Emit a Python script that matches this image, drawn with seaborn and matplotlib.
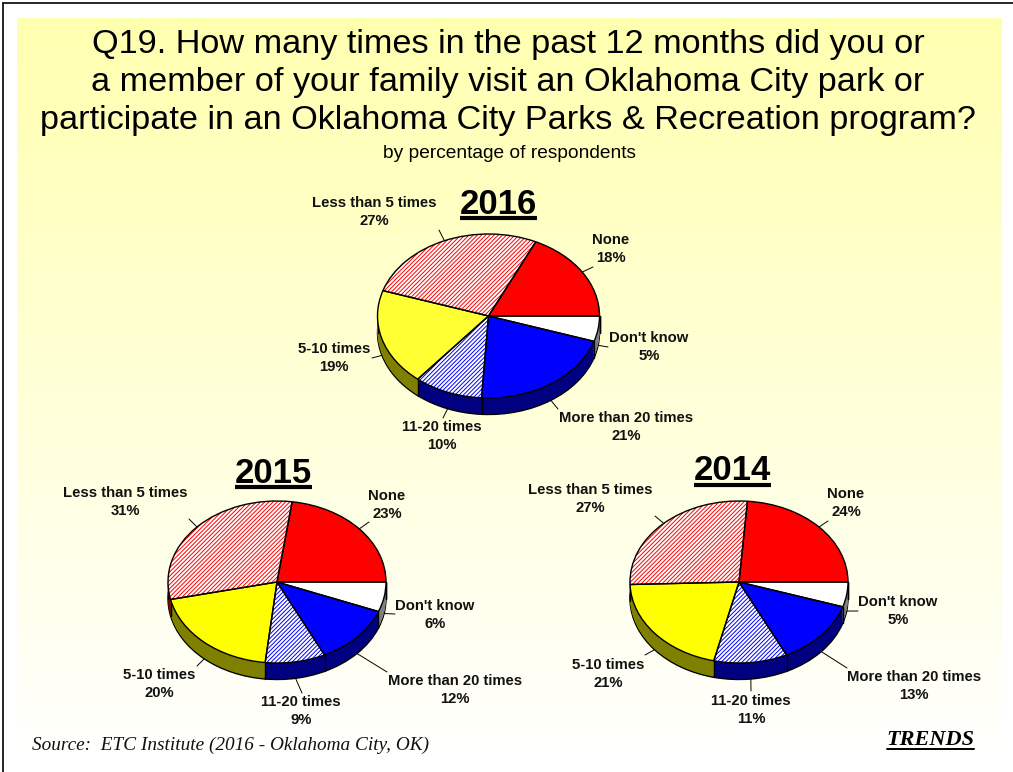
import numpy as np
import matplotlib
matplotlib.use('Agg')
import matplotlib.pyplot as plt
from matplotlib.lines import Line2D
import seaborn as sns

W, H = 1013, 772

categories = ['None', 'Less than 5 times', '5-10 times', '11-20 times', 'More than 20 times', "Don't know"]
values_2016 = [18, 27, 19, 10, 21, 5]
values_2015 = [23, 31, 20, 9, 12, 6]
values_2014 = [24, 27, 21, 11, 13, 5]

top_colors = ['#FF0000', '#FFFFFF', '#FFFF00', '#FFFFFF', '#0000FF', '#FFFFFF']
side_colors = ['#800000', '#800000', '#808000', '#000080', '#000080', '#808080']
hatch_colors = {1: '#FF0000', 3: '#0000FF'}

title_lines = ['Q19. How many times in the past 12 months did you or',
               'a member of your family visit an Oklahoma City park or',
               'participate in an Oklahoma City Parks & Recreation program?']

# layout, in pixels of the picture: year, values, centre, radii, depth, title, label spots, leader ends
pies = [
    dict(year='2016', vals=values_2016, cx=488.5, cy=316, rx=111, ry=82, depth=16.5, head=(498, 202, 218),
         labels=[(611, 249), (374, 212), (334, 358), (442, 436), (626, 427), (649, 347)],
         ends=[(593, 267), (439, 230), (372, 358), (443, 418), (558, 409), (608, 347)]),
    dict(year='2015', vals=values_2015, cx=277, cy=582, rx=109, ry=81, depth=16.5, head=(273, 471, 487),
         labels=[(387, 505), (125, 502), (159, 684), (301, 711), (455, 690), (435, 615)],
         ends=[(369, 522), (189, 519), (197, 666), (302, 693), (387, 672), (395, 614)]),
    dict(year='2014', vals=values_2014, cx=739, cy=582, rx=109, ry=81, depth=16.5, head=(732, 468, 485),
         labels=[(846, 503), (590, 499), (608, 674), (751, 710), (914, 686), (898, 611)],
         ends=[(828, 521), (655, 516), (645, 655), (751, 691), (847, 668), (858, 611)]),
]

sns.set_theme(style='white')
plt.rcParams['font.family'] = ['Liberation Sans', 'DejaVu Sans']
plt.rcParams['hatch.linewidth'] = 0.7


def fx(x):
    return x / W


def fy(y):
    return 1 - y / H


fig = plt.figure(figsize=(W / 100, H / 100), dpi=100, facecolor='white')

# pale yellow panel fading to white
bg = fig.add_axes([fx(17), fy(762), (1001 - 17) / W, (762 - 18) / H], zorder=0)
grad = np.linspace(0, 1, 256).reshape(-1, 1)
bg.imshow(grad, aspect='auto', cmap=matplotlib.colors.LinearSegmentedColormap.from_list('bg', ['#FFFFB0', '#FFFFFF']))
bg.axis('off')

fig.add_artist(Line2D([fx(2.5), fx(2.5)], [fy(3), 0], color='black', lw=1.2))
fig.add_artist(Line2D([fx(2.5), 1], [fy(3), fy(3)], color='black', lw=1.2))


def draw_pie(p):
    pad = 4
    ax = fig.add_axes([fx(p['cx'] - p['rx'] - pad), fy(p['cy'] + p['ry'] + p['depth'] + pad),
                       (2 * p['rx'] + 2 * pad) / W, (2 * p['ry'] + p['depth'] + 2 * pad) / H], zorder=2)
    d = p['depth'] / p['ry']
    vals = np.array(p['vals'], dtype=float)
    angles = np.cumsum(vals) / vals.sum() * 2 * np.pi

    # side wall: dark copies of the pie stacked downward, outlined at the bottom
    pal = sns.color_palette(side_colors)
    ax.pie(vals, colors=pal, center=(0, -d), wedgeprops=dict(edgecolor='black', linewidth=1.0))
    for off in np.linspace(d, 0, int(p['depth']) + 1)[1:-1]:
        ax.pie(vals, colors=pal, center=(0, -off), wedgeprops=dict(edgecolor='none', linewidth=0))
    for a in list(angles) + [np.pi, 2 * np.pi]:
        if np.sin(a) < 1e-9 and np.cos(a) != 0:
            ax.plot([np.cos(a)] * 2, [np.sin(a), np.sin(a) - d], color='black', lw=1.0, zorder=3)

    # top face: flat colours, hatching on two slices, then the outline
    colors = list(top_colors)
    if p['year'] == '2016':
        colors[2] = '#FFFF33'
    wedges, _ = ax.pie(vals, colors=sns.color_palette(colors), wedgeprops=dict(linewidth=0))
    for w in wedges:
        w.set_zorder(4)
    for i, c in hatch_colors.items():
        wedges[i].set_hatch('////////')
        wedges[i].set_edgecolor(c)
    outline, _ = ax.pie(vals, colors=['none'] * 6, wedgeprops=dict(edgecolor='black', linewidth=1.0, facecolor='none'))
    for w in outline:
        w.set_facecolor('none')
        w.set_zorder(5)

    ax.set_aspect('auto')
    ax.set_xlim(-1 - pad / p['rx'], 1 + pad / p['rx'])
    ax.set_ylim(-1 - d - pad / p['ry'], 1 + pad / p['ry'])
    ax.axis('off')

    # labels and leader lines
    mids = (np.cumsum(vals) - vals / 2) / vals.sum() * 2 * np.pi
    for cat, v, m, (lx, ly), (ex, ey) in zip(categories, p['vals'], mids, p['labels'], p['ends']):
        sx = p['cx'] + p['rx'] * np.cos(m)
        sy = p['cy'] - p['ry'] * np.sin(m)
        if np.sin(m) < 0:
            sy += p['depth']
        fig.add_artist(Line2D([fx(sx), fx(ex)], [fy(sy), fy(ey)], color='black', lw=0.7, zorder=3))
        fig.text(fx(lx), fy(ly), f'{cat}\n{v}%', ha='center', va='center', fontsize=10.7, fontweight='bold',
                 color='#111111', linespacing=1.32, zorder=6)

    hx, hy, uy = p['head']
    fig.text(fx(hx), fy(hy + 3), p['year'], ha='center', va='center', fontsize=25, fontweight='bold', color='black', zorder=6)
    fig.add_artist(Line2D([fx(hx - 38.5), fx(hx + 38.5)], [fy(uy), fy(uy)], color='black', lw=3, solid_capstyle='butt', zorder=6))


for p in pies:
    draw_pie(p)

for line, y in zip(title_lines, [41, 79, 118]):
    fig.text(fx(508), fy(y + 3), line, ha='center', va='center', fontsize=24.65, color='black', zorder=6)
fig.text(fx(509), fy(153), 'by percentage of respondents', ha='center', va='center', fontsize=13.8, color='black', zorder=6)

fig.text(fx(32), fy(745), 'Source:  ETC Institute (2016 - Oklahoma City, OK)', ha='left', va='center',
         family=['Liberation Serif'], style='italic', fontsize=13.9, color='#111111', zorder=6)
fig.text(fx(930), fy(740), 'TRENDS', ha='center', va='center', family=['Liberation Serif'], style='italic',
         fontweight='bold', fontsize=16, color='black', zorder=6)
fig.add_artist(Line2D([fx(887), fx(974)], [fy(749), fy(749)], color='black', lw=1.4, zorder=6))

fig.savefig('out.png', dpi=100, facecolor='white')
